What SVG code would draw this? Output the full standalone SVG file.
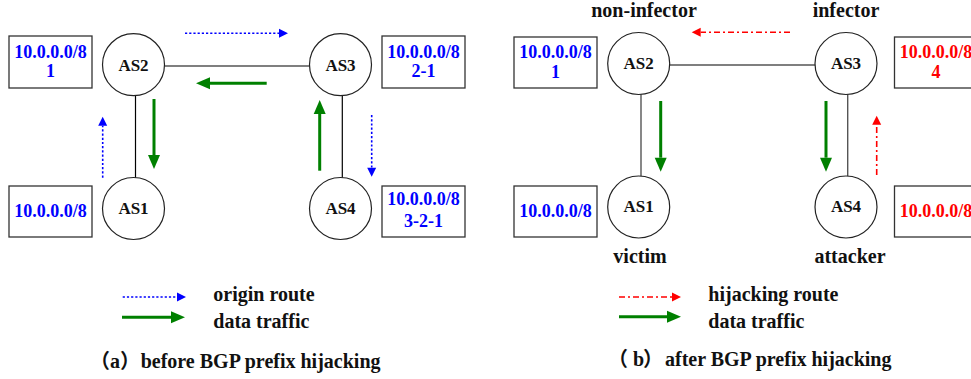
<svg xmlns="http://www.w3.org/2000/svg" width="971" height="379" viewBox="0 0 971 379">
<style>
.node circle{fill:#fff;stroke:#222;stroke-width:1.2}
.nt{font-family:"Liberation Serif","Times New Roman",serif;font-weight:bold;font-size:17px;fill:#111;text-anchor:middle}
.box{fill:#fff;stroke:#333;stroke-width:1.3}
.bt{font-family:"Liberation Serif","Times New Roman",serif;font-weight:bold;font-size:18px;text-anchor:middle}
.blue{fill:#0000ff}
.red{fill:#ff0000}
.lbl{font-family:"Liberation Serif","Times New Roman",serif;font-weight:bold;font-size:20px;fill:#111}
.cap{font-family:"Liberation Serif","Noto Sans CJK SC",serif;font-weight:bold;font-size:20px;fill:#111}
.link{stroke:#000;stroke-width:1.2;fill:none}
.link2{stroke:#555;stroke-width:1.4;fill:none}
.orig{stroke:#0000ff;stroke-width:1.6;stroke-dasharray:2.2,2;fill:none;marker-end:url(#hb)}
.hij{stroke:#ff0000;stroke-width:1.6;stroke-dasharray:6,3,2,3;fill:none;marker-end:url(#hr)}
.data{stroke:#008000;stroke-width:3;fill:none;marker-end:url(#hg)}
</style>
<defs>
<marker id="hb" markerUnits="userSpaceOnUse" markerWidth="10" markerHeight="10" refX="0" refY="4.5" orient="auto" overflow="visible"><path d="M0,0 L9,4.5 L0,9 Z" fill="#0000ff"/></marker>
<marker id="hr" markerUnits="userSpaceOnUse" markerWidth="10" markerHeight="10" refX="0" refY="4.5" orient="auto" overflow="visible"><path d="M0,0 L9,4.5 L0,9 Z" fill="#ff0000"/></marker>
<marker id="hg" markerUnits="userSpaceOnUse" markerWidth="15" markerHeight="13" refX="0" refY="6" orient="auto" overflow="visible"><path d="M0,0 L14,6 L0,12 Z" fill="#008000"/></marker>
</defs>

<g id="links">
<line class="link" x1="165" y1="66" x2="309" y2="66"/>
<line class="link" x1="135.5" y1="96" x2="135.5" y2="178"/>
<line class="link" x1="342.3" y1="96" x2="342.3" y2="178"/>
<line class="link2" x1="670" y1="65" x2="815" y2="65"/>
<line class="link2" x1="641" y1="94" x2="641" y2="176"/>
<line class="link2" x1="847.7" y1="94" x2="847.7" y2="176"/>
</g>

<g id="connectors">
<line class="orig" x1="185" y1="33.3" x2="279" y2="33.3"/>
<line class="orig" x1="102.7" y1="177.7" x2="102.7" y2="125.7"/>
<line class="orig" x1="371.7" y1="115" x2="371.7" y2="167.7"/>
<line class="data" x1="266.7" y1="83.3" x2="210" y2="83.3"/>
<line class="data" x1="154" y1="99" x2="154" y2="155"/>
<line class="data" x1="319.7" y1="170.7" x2="319.7" y2="114"/>
<line class="hij" x1="790" y1="32.3" x2="700.7" y2="32.3"/>
<line class="hij" x1="876.7" y1="175" x2="876.7" y2="124.7"/>
<line class="data" x1="660.7" y1="101" x2="660.7" y2="157.7"/>
<line class="data" x1="826" y1="101" x2="826" y2="157.7"/>
</g>

<g id="a-AS2" class="node"><circle cx="133.5" cy="64.7" r="31"/><text class="nt" x="133.5" y="70.5">AS2</text></g>
<g id="a-AS3" class="node"><circle cx="340.5" cy="64.7" r="31"/><text class="nt" x="340.5" y="70.5">AS3</text></g>
<g id="a-AS1" class="node"><circle cx="133.5" cy="208.5" r="31"/><text class="nt" x="133.5" y="214.3">AS1</text></g>
<g id="a-AS4" class="node"><circle cx="340.5" cy="208.5" r="31"/><text class="nt" x="340.5" y="214.3">AS4</text></g>

<g id="a-box2"><rect class="box" x="9" y="36" width="83" height="52"/><text class="bt blue" x="50.5" y="58">10.0.0.0/8</text><text class="bt blue" x="50.5" y="77.3">1</text></g>
<g id="a-box3"><rect class="box" x="382" y="36" width="83" height="52"/><text class="bt blue" x="423.5" y="58">10.0.0.0/8</text><text class="bt blue" x="423.5" y="77.3">2-1</text></g>
<g id="a-box1"><rect class="box" x="9" y="186" width="83" height="51"/><text class="bt blue" x="50.5" y="217.3">10.0.0.0/8</text></g>
<g id="a-box4"><rect class="box" x="382" y="186" width="83" height="51"/><text class="bt blue" x="423.5" y="205">10.0.0.0/8</text><text class="bt blue" x="423.5" y="226.7">3-2-1</text></g>

<g id="b-AS2" class="node"><circle cx="638.7" cy="63.5" r="31"/><text class="nt" x="638.7" y="69">AS2</text></g>
<g id="b-AS3" class="node"><circle cx="846" cy="63.5" r="31"/><text class="nt" x="846" y="69">AS3</text></g>
<g id="b-AS1" class="node"><circle cx="638.7" cy="207" r="31"/><text class="nt" x="638.7" y="212.3">AS1</text></g>
<g id="b-AS4" class="node"><circle cx="846" cy="207" r="31"/><text class="nt" x="846" y="212.3">AS4</text></g>

<g id="b-box2"><rect class="box" x="514" y="37" width="83" height="51"/><text class="bt blue" x="555.5" y="57.5">10.0.0.0/8</text><text class="bt blue" x="555.5" y="77.7">1</text></g>
<g id="b-box3"><rect class="box" x="894.5" y="37" width="83" height="51"/><text class="bt red" x="936" y="57.5">10.0.0.0/8</text><text class="bt red" x="936" y="77.7">4</text></g>
<g id="b-box1"><rect class="box" x="514" y="186" width="83" height="51"/><text class="bt blue" x="555.5" y="217.3">10.0.0.0/8</text></g>
<g id="b-box4"><rect class="box" x="894.5" y="186" width="83" height="51"/><text class="bt red" x="936" y="217.3">10.0.0.0/8</text></g>

<g id="roles">
<text class="lbl" x="644" y="16.7" text-anchor="middle">non-infector</text>
<text class="lbl" x="846" y="16.7" text-anchor="middle">infector</text>
<text class="lbl" x="640" y="263.3" text-anchor="middle">victim</text>
<text class="lbl" x="850" y="263.3" text-anchor="middle">attacker</text>
</g>

<g id="legend-a">
<line class="orig" x1="122.7" y1="297" x2="177" y2="297"/>
<line class="data" x1="122" y1="317.3" x2="171" y2="317.3"/>
<text class="lbl" x="213.3" y="301">origin route</text>
<text class="lbl" x="213.3" y="328.3">data traffic</text>
</g>
<g id="legend-b">
<line class="hij" x1="619" y1="297" x2="672" y2="297"/>
<line class="data" x1="619" y1="316.7" x2="667" y2="316.7"/>
<text class="lbl" x="708.3" y="301">hijacking route</text>
<text class="lbl" x="708.3" y="328.3">data traffic</text>
</g>

<g id="captions">
<text class="cap" y="368"><tspan x="90">（</tspan><tspan x="110">a</tspan><tspan x="120">）</tspan><tspan x="140.7">before BGP prefix hijacking</tspan></text>
<text class="cap" y="365.7"><tspan x="608">（</tspan><tspan x="633">b</tspan><tspan x="643">）</tspan><tspan x="665">after BGP prefix hijacking</tspan></text>
</g>
</svg>
